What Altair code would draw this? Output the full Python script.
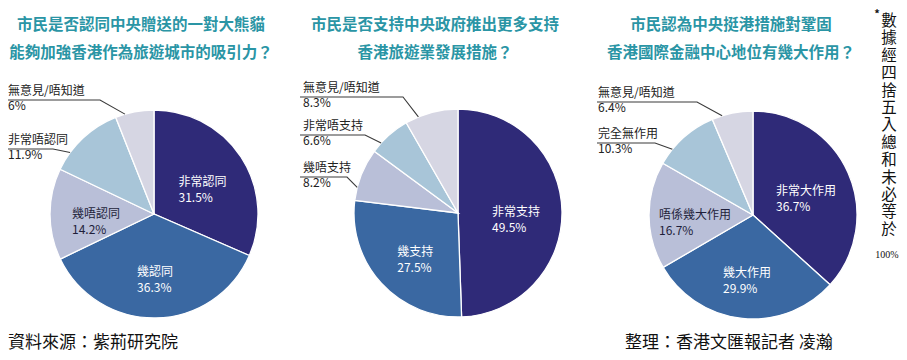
import altair as alt
import pandas as pd
import numpy as np

# ---------------- data ----------------
q1_cats = ["非常認同", "幾認同", "幾唔認同", "非常唔認同", "無意見/唔知道"]
q1_vals = [31.5, 36.3, 14.2, 11.9, 6.0]
q2_cats = ["非常支持", "幾支持", "幾唔支持", "非常唔支持", "無意見/唔知道"]
q2_vals = [49.5, 27.5, 8.2, 6.6, 8.3]
q3_cats = ["非常大作用", "幾大作用", "唔係幾大作用", "完全無作用", "無意見/唔知道"]
q3_vals = [36.7, 29.9, 16.7, 10.3, 6.4]

titles = [
    ["市民是否認同中央贈送的一對大熊貓", "能夠加強香港作為旅遊城市的吸引力？"],
    ["市民是否支持中央政府推出更多支持", "香港旅遊業發展措施？"],
    ["市民認為中央挺港措施對鞏固", "香港國際金融中心地位有幾大作用？"],
]
source_text = "資料來源：紫荊研究院"
credit_text = "整理：香港文匯報記者 凌瀚"
note_text = "數據經四捨五入總和未必等於"
note_tail = "100%"

# ---------------- layout / style ----------------
W, H = 891, 344
R = 104
R_IN = 58
centers = [(154, 214), (458, 213), (753, 215)]
title_x = [141, 435, 731]
inside_n = [3, 2, 3]
out_text_x = [8, 303, 598]
out_line_x0 = [8, 300, 597]
out_under_y = [[149, 100], [177, 135, 97], [143, 102]]
out_knee_x = [[53, 100], [347, 365, 403], [655, 697]]
colors = ["#2f2a78", "#3a68a2", "#b9bfd8", "#a8c5d8", "#d6d6e3"]
title_color = "#2a95a5"
FONT = "Noto Sans CJK TC"

xs = alt.Scale(domain=[8, 8 + W], nice=False, zero=False)
ys = alt.Scale(domain=[8, 8 + H], nice=False, zero=False, reverse=True)

pies = [(q1_cats, q1_vals), (q2_cats, q2_vals), (q3_cats, q3_vals)]

pie_frames, inside_light, inside_dark, outside_rows, line_rows, title_rows = [], [], [], [], [], []
for p, (cats, vals) in enumerate(pies):
    cx, cy = centers[p]
    v = np.array(vals, dtype=float)
    frac = v / v.sum()
    start = np.concatenate([[0], np.cumsum(frac)[:-1]])
    mid = start + frac / 2
    pie_frames.append(pd.DataFrame({"k": range(len(cats)), "cat": cats, "v": vals,
                                    "cx": cx, "cy": cy}))
    for i, cat in enumerate(cats):
        pct = f"{vals[i]:g}%"
        if i < inside_n[p]:
            ang = 2 * np.pi * mid[i]
            px = cx + R_IN * np.sin(ang)
            py = cy - R_IN * np.cos(ang)
            row = {"x": px - len(cat) * 12 / 2, "y": py, "t": cat + "\n" + pct}
            (inside_light if i < 2 else inside_dark).append(row)
        else:
            j = i - inside_n[p]
            uy = out_under_y[p][j]
            outside_rows.append({"x": out_text_x[p], "y": uy - 2, "t": cat + "\n" + pct})
            ang = 2 * np.pi * (start[i] + 0.25 * frac[i])
            ex = cx + R * np.sin(ang)
            ey = cy - R * np.cos(ang)
            lid = f"{p}-{i}"
            line_rows += [
                {"id": lid, "o": 0, "x": out_line_x0[p], "y": uy},
                {"id": lid, "o": 1, "x": out_knee_x[p][j], "y": uy},
                {"id": lid, "o": 2, "x": ex, "y": ey},
            ]
    title_rows.append({"x": title_x[p], "y": 25, "t": "\n".join(titles[p])})

layers = []
for df in pie_frames:
    layers.append(
        alt.Chart(df).mark_arc(outerRadius=R, stroke="white", strokeWidth=1.3).encode(
            x=alt.X("cx:Q", scale=xs, axis=None),
            y=alt.Y("cy:Q", scale=ys, axis=None),
            theta=alt.Theta("v:Q", stack="normalize"),
            color=alt.Color("k:O", scale=alt.Scale(domain=[0, 1, 2, 3, 4], range=colors), legend=None),
            order=alt.Order("k:Q"),
        )
    )

def tx(df, font=FONT, **mk):
    return alt.Chart(pd.DataFrame(df)).mark_text(font=font, lineBreak="\n", **mk).encode(
        x=alt.X("x:Q", scale=xs, axis=None),
        y=alt.Y("y:Q", scale=ys, axis=None),
        text="t:N",
    )

lines = alt.Chart(pd.DataFrame(line_rows)).mark_line(color="#3a3a3a", strokeWidth=1.1).encode(
    x=alt.X("x:Q", scale=xs, axis=None),
    y=alt.Y("y:Q", scale=ys, axis=None),
    detail="id:N",
    order="o:Q",
)
layers.append(lines)
layers.append(tx(inside_light, align="left", baseline="middle", fontSize=12, lineHeight=16, color="white"))
layers.append(tx(inside_dark, align="left", baseline="middle", fontSize=12, lineHeight=16, color="#1e1e3a"))
layers.append(tx(outside_rows, align="left", baseline="bottom", fontSize=12, lineHeight=15, color="#222222"))
layers.append(tx(title_rows, align="center", baseline="middle", fontSize=15.5, lineHeight=28,
                 fontWeight="bold", color=title_color))
layers.append(tx([{"x": 8, "y": 343, "t": source_text}], align="left", baseline="middle",
                 fontSize=17, color="#111111"))
layers.append(tx([{"x": 625, "y": 343, "t": credit_text}], align="left", baseline="middle",
                 fontSize=17, color="#111111"))
layers.append(tx([{"x": 889, "y": 14, "t": "\n".join(note_text)}], align="center", baseline="top",
                 fontSize=15.5, lineHeight=17.4, color="#111111"))
layers.append(tx([{"x": 877, "y": 15, "t": "*"}], align="center", baseline="middle",
                 fontSize=11, fontWeight="bold", color="#111111"))
layers.append(tx([{"x": 887, "y": 255, "t": note_tail}], font="Liberation Sans Narrow",
                 align="center", baseline="middle", fontSize=10, color="#111111"))

chart = alt.layer(*layers).properties(
    width=W, height=H, padding=0,
    autosize=alt.AutoSizeParams(type="none"),
).configure_view(stroke=None)

chart.save("out.html", embed_options={"renderer": "svg", "actions": False})
